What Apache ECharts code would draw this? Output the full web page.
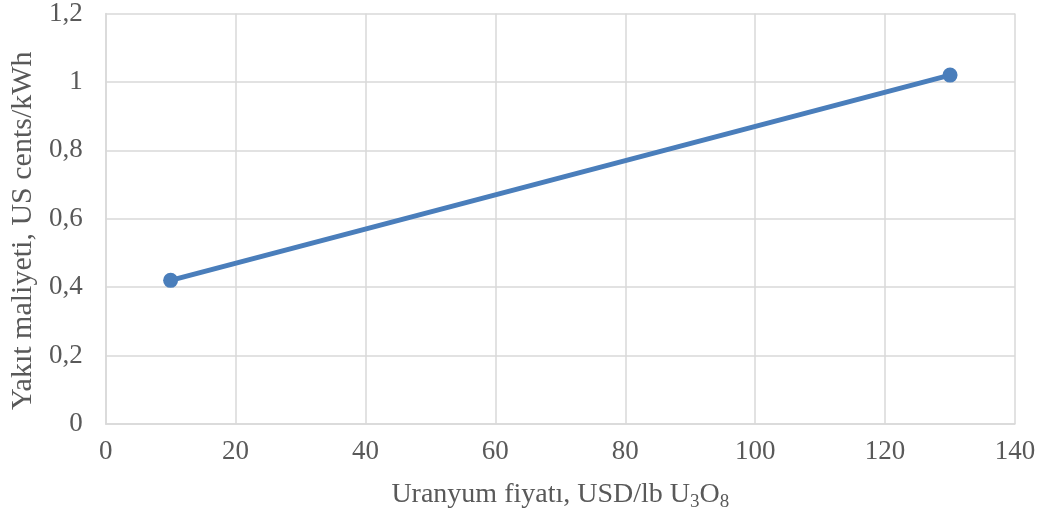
<!DOCTYPE html>
<html>
<head>
<meta charset="utf-8">
<script src="https://cdn.jsdelivr.net/npm/echarts@6/dist/echarts.min.js"></script>
<style>
  html, body { margin: 0; padding: 0; background: #fff; }
  #chart { width: 1041px; height: 521px; }
</style>
</head>
<body>
<div id="chart"></div>
<script>
// veri
var uraniumPrice = [10, 130];      // USD/lb U3O8
var fuelCost = [0.42, 1.02];       // US cents/kWh

var font = 'Liberation Serif';
var gridColor = '#d9d9d9';
var textColor = '#595959';

function comma(v) {
  return String(Math.round(v * 10) / 10).replace('.', ',');
}

var chart = echarts.init(document.getElementById('chart'));
var option = {
  animation: false,
  grid: { left: 103, right: 26, top: 13, bottom: 97 },
  xAxis: {
    type: 'value',
    min: 0, max: 140, interval: 20,
    name: 'Uranyum fiyatı, USD/lb U{s|3}O{s|8}',
    nameLocation: 'middle',
    nameGap: 53,
    nameTextStyle: {
      fontFamily: font, fontSize: 28, color: textColor,
      rich: { s: { fontFamily: font, fontSize: 19, color: textColor, verticalAlign: 'bottom', padding: [16, 0, 0, 0] } }
    },
    axisLine: { show: true, lineStyle: { color: gridColor, width: 1.5 } },
    axisTick: { show: false },
    axisLabel: { fontFamily: font, fontSize: 27, color: textColor, margin: 14 },
    splitLine: { show: true, lineStyle: { color: gridColor, width: 1.5 } }
  },
  yAxis: {
    type: 'value',
    min: 0, max: 1.2, interval: 0.2,
    name: 'Yakıt maliyeti, US cents/kWh',
    nameLocation: 'middle',
    nameGap: 64,
    nameTextStyle: { fontFamily: font, fontSize: 30, color: textColor, padding: [0, 24, 0, 0] },
    axisLine: { show: true, lineStyle: { color: gridColor, width: 1.5 } },
    axisTick: { show: false },
    axisLabel: { fontFamily: font, fontSize: 27, color: textColor, margin: 23, formatter: comma },
    splitLine: { show: true, lineStyle: { color: gridColor, width: 1.5 } }
  },
  series: [{
    type: 'line',
    data: uraniumPrice.map(function (x, i) { return [x, fuelCost[i]]; }),
    symbol: 'circle',
    symbolSize: 15,
    lineStyle: { color: '#4a7ebb', width: 5 },
    itemStyle: { color: '#4a7ebb' }
  }]
};
chart.setOption(option);
</script>
</body>
</html>
